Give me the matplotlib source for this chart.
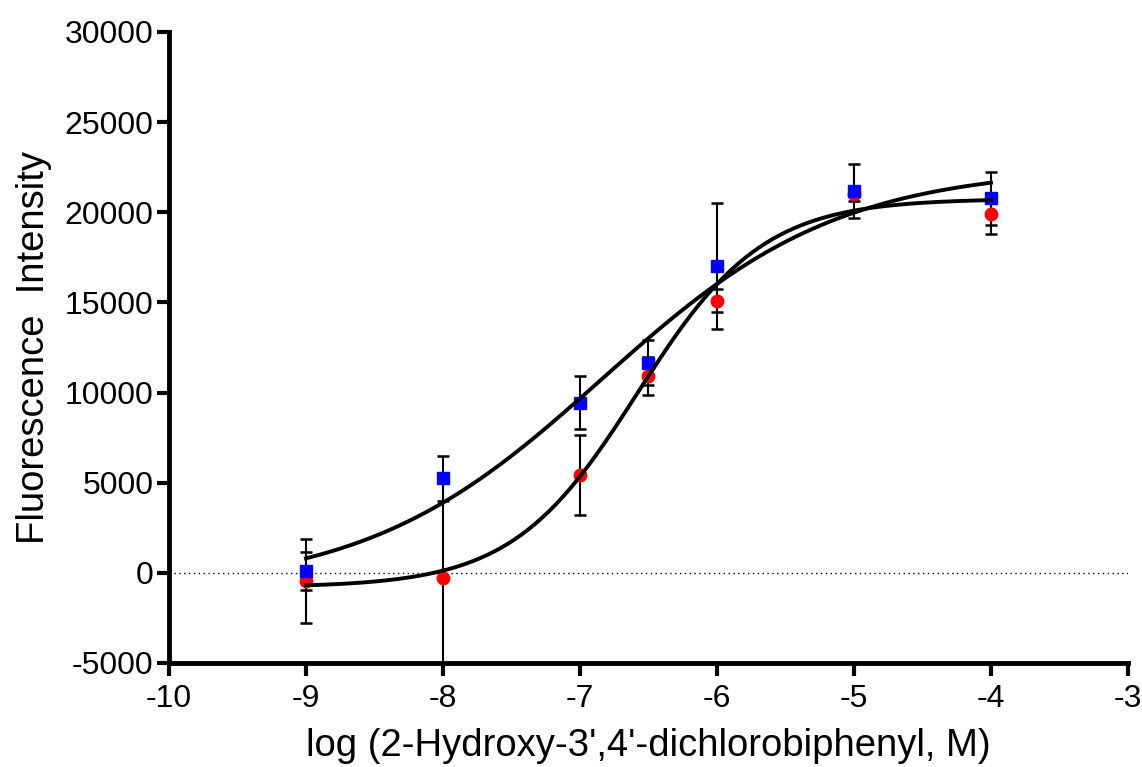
import numpy as np
import matplotlib.pyplot as plt

plt.rcParams['font.family'] = ['Liberation Sans', 'DejaVu Sans']
plt.rcParams['axes.unicode_minus'] = False

# log concentrations
log_conc = [-9, -8, -7, -6.5, -6, -5, -4]

# red circles: mean and SD
red_mean = [-450, -260, 5420, 10920, 15100, 21040, 19920]
red_sd = [2330, 5800, 2200, 1070, 620, 440, 1110]

# blue squares: mean and SD
blue_mean = [100, 5250, 9440, 11660, 17020, 21170, 20770]
blue_sd = [1050, 1250, 1480, 1250, 3500, 1500, 1480]

# fitted 4PL parameters: bottom, top, logEC50, hill slope
red_fit = (-800, 20750, -6.58, 0.95)
blue_fit = (-1000, 22500, -6.84, 0.5)


def four_pl(x, bottom, top, logec50, hill):
    return bottom + (top - bottom) / (1 + 10 ** ((logec50 - x) * hill))


fig = plt.figure(figsize=(11.42, 7.67), dpi=100)
ax = fig.add_axes([0.148, 0.1356, 0.8397, 0.8227])

ax.axhline(0, color='black', lw=1.0, ls=(0, (1, 2.5)), zorder=1)

ax.errorbar(log_conc, red_mean, yerr=red_sd, fmt='none', ecolor='black',
            elinewidth=1.5, capsize=4.6, capthick=1.8, zorder=2)
ax.errorbar(log_conc, blue_mean, yerr=blue_sd, fmt='none', ecolor='black',
            elinewidth=1.5, capsize=4.6, capthick=1.8, zorder=2)
ax.plot(log_conc, red_mean, 'o', color='#ff0000', ms=9, mec='#ff0000', zorder=3)
ax.plot(log_conc, blue_mean, 's', color='#0000ff', ms=8.5, mec='#0000ff', zorder=4)

xs = np.linspace(min(log_conc), max(log_conc), 300)
ax.plot(xs, four_pl(xs, *red_fit), color='black', lw=2.8, zorder=5)
ax.plot(xs, four_pl(xs, *blue_fit), color='black', lw=2.8, zorder=5)

ax.set_xlim(-10, -3)
ax.set_ylim(-5000, 30000)
ax.set_xticks(range(-10, -2))
ax.set_yticks(range(-5000, 30001, 5000))

for side in ['top', 'right']:
    ax.spines[side].set_visible(False)
for side in ['left', 'bottom']:
    ax.spines[side].set_linewidth(3.5)
ax.tick_params(axis='both', direction='out', length=9, width=3, labelsize=23)
ax.tick_params(axis='y', pad=2)
ax.tick_params(axis='x', pad=6)

ax.set_xlabel("log (2-Hydroxy-3',4'-dichlorobiphenyl, M)", fontsize=27.5, labelpad=10)
ax.set_ylabel("Fluorescence  Intensity", fontsize=27.5, labelpad=9)

fig.savefig('out.png', dpi=100)
